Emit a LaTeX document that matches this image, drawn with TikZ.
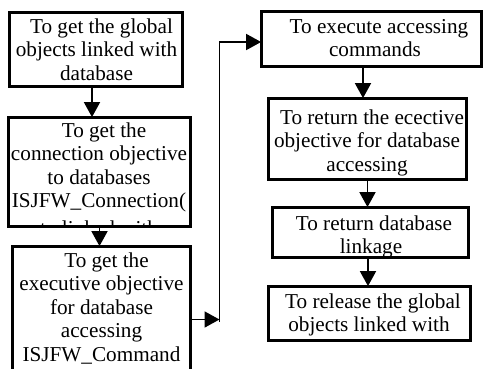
\documentclass[tikz,border=0pt]{standalone}
\usepackage{fontspec}
\setmainfont{Liberation Serif}
\usetikzlibrary{arrows.meta}

\tikzset{
  frame/.style={draw, line width=1.8pt, inner sep=0pt},
  txt/.style={font=\fontsize{21.2}{23.5}\selectfont, align=center, inner sep=0pt, anchor=north},
  arr/.style={line width=1.8pt, -{Triangle[length=15pt,width=16pt]}}
}

\begin{document}
\begin{tikzpicture}[x=1pt,y=-1pt]
  \clip (0,0) rectangle (483,368);

  % process boxes (frames only; text is placed separately and clipped)
  \node[frame, minimum width=172pt, minimum height=73pt]  (b1) at (96,49.5)    {};
  \node[frame, minimum width=181pt, minimum height=108pt] (b2) at (99.5,172)   {};
  \node[frame, minimum width=177pt, minimum height=145pt] (b3) at (101.5,319.5) {};
  \node[frame, minimum width=219pt, minimum height=54pt]  (b4) at (371.5,39)   {};
  \node[frame, minimum width=197pt, minimum height=80pt]  (b5) at (367.5,139)  {};
  \node[frame, minimum width=195pt, minimum height=49pt]  (b6) at (370.5,232.5) {};
  \node[frame, minimum width=201pt, minimum height=53pt]  (b7) at (369.5,313.5) {};

  % box texts, each cut off at its frame
  \begin{scope}
    \clip (b1.south west) rectangle (b1.north east);
    \node[txt] (t1) at (96.5,16.55) {\strut\hspace*{10pt}To get the global\\objects linked with\\database};
  \end{scope}
  \begin{scope}
    \clip (b2.south west) rectangle (b2.north east);
    \node[txt] (t2) at (99,120.55) {\strut\hspace*{10pt}To get the\\connection objective\\to databases\\ISJFW\_Connection(\\[4pt]to linked with};
  \end{scope}
  \begin{scope}
    \clip (b3.south west) rectangle (b3.north east);
    \node[txt] (t3) at (101.5,250.55) {\strut\hspace*{10pt}To get the\\executive objective\\for database\\accessing\\ISJFW\_Command};
  \end{scope}
  \begin{scope}
    \clip (b4.south west) rectangle (b4.north east);
    \node[txt] (t4) at (375,16.55) {\strut\hspace*{8pt}To execute accessing\\commands};
  \end{scope}
  \begin{scope}
    \clip (b5.south west) rectangle (b5.north east);
    \node[txt] (t5) at (367,107.55) {\strut\hspace*{10pt}To return the ecective\\objective for database\\accessing};
  \end{scope}
  \begin{scope}
    \clip (b6.south west) rectangle (b6.north east);
    \node[txt] (t6) at (371,213.55) {\strut\hspace*{6pt}To return database\\linkage};
  \end{scope}
  \begin{scope}
    \clip (b7.south west) rectangle (b7.north east);
    \node[txt] (t7) at (369,291.55) {\strut\hspace*{8pt}To release the global\\objects linked with};
  \end{scope}

  % redraw frames on top of the clipped text
  \foreach \b in {b1,b2,b3,b4,b5,b6,b7}
    \draw[line width=1.8pt] (\b.south west) rectangle (\b.north east);

  % connectors
  \draw[arr] ([xshift=-4pt]b1.south) -- ([xshift=-4pt]b1.south |- b2.north);
  \draw[arr] (b2.south) -- (b2.south |- b3.north);

  \coordinate (jb) at (219.5,322);
  \draw[arr] (b3.east) -- (b3.east -| jb);
  \draw[arr] (jb) |- ([yshift=-3pt]b4.west);

  \draw[arr] ([xshift=-8.5pt]b4.south) -- ([xshift=-8.5pt]b4.south |- b5.north);
  \draw[arr] (b5.south) -- (b5.south |- b6.north);
  \draw[arr] ([xshift=-2.5pt]b6.south) -- ([xshift=-2.5pt]b6.south |- b7.north);
\end{tikzpicture}
\end{document}
